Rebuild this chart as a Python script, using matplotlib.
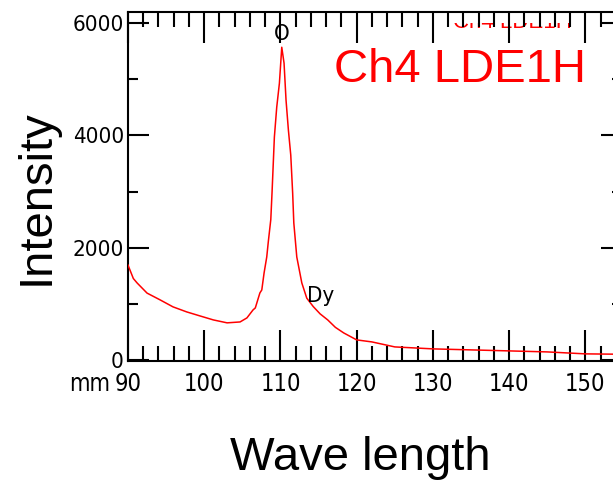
import matplotlib
matplotlib.use("Agg")
import matplotlib.pyplot as plt
from matplotlib.patches import Rectangle
from matplotlib.ticker import MultipleLocator

# spectrum
wavelength = [90, 90.7, 91.2, 92.5, 94.2, 95.9, 97.7, 99.4, 101.2, 103.0,
              104.7, 105.6, 106.4, 106.7, 107.3, 107.55, 107.85, 108.2, 108.4,
              108.73, 108.9, 109.2, 109.51, 109.86, 110.17, 110.47, 110.73,
              111.04, 111.35, 111.6, 111.75, 112.14, 112.8, 113.45, 114.3,
              115.2, 116.2, 117.2, 118.3, 120, 122, 125, 130, 135, 140, 145,
              150, 155]
intensity = [1690, 1450, 1370, 1190, 1070, 945, 855, 785, 712, 660,
             676, 748, 890, 926, 1193, 1246, 1549, 1834, 2100,
             2500, 3000, 3970, 4504, 4931, 5572, 5288, 4629,
             4095, 3650, 2970, 2440, 1834, 1371, 1100, 950,
             820, 712, 580, 480, 356, 320, 231, 196, 178, 160, 142,
             107, 100]

y_ticks = [0, 2000, 4000, 6000]
x_ticks = [90, 100, 110, 120, 130, 140, 150]

small = dict(family="DejaVu Sans", stretch="condensed")
big = "Liberation Sans"

fig = plt.figure(figsize=(6.13, 4.84), dpi=100)
ax = fig.add_axes([128 / 613, 1 - 361 / 484, (622 - 128) / 613, (361 - 12) / 484])

ax.plot(wavelength, intensity, color="red", linewidth=1.1, zorder=3)

ax.set_xlim(90, 154.8)
ax.set_ylim(-20, 6200)
ax.set_xticks(x_ticks)
ax.set_yticks(y_ticks)
ax.xaxis.set_minor_locator(MultipleLocator(2))
ax.yaxis.set_minor_locator(MultipleLocator(1000))
ax.tick_params(which="both", direction="in", top=True, right=True, color="black", width=1.5)
ax.tick_params(axis="x", which="major", length=22, labelsize=17, pad=8)
ax.tick_params(axis="x", which="minor", length=11)
ax.tick_params(axis="y", which="major", length=15, labelsize=16, pad=3)
ax.tick_params(axis="y", which="minor", length=7.5)
for lab in ax.get_xticklabels() + ax.get_yticklabels():
    lab.set_family(small["family"])
    lab.set_stretch(small["stretch"])
for s in ax.spines.values():
    s.set_linewidth(1.5)

ax.text(110.2, 5800, "O", fontsize=16, ha="center", va="center", **small)
ax.text(113.5, 1033, "Dy", fontsize=16, ha="left", va="baseline", **small)
fig.text(110 / 613, 1 - 384 / 484, "mm", fontsize=17, ha="right", va="center", **small)

# faint, mostly hidden copy of the channel name under the top ticks
ax.text(512 / 613, 1 - 28 / 484, "Ch4 LDE1H", color="red", fontsize=16,
        ha="center", va="baseline", family=big, transform=fig.transFigure,
        zorder=1, clip_on=False)
ax.add_patch(Rectangle((440 / 613, 1 - 23 / 484), 150 / 613, 12 / 484,
                       transform=fig.transFigure, facecolor="white",
                       edgecolor="none", zorder=1.5, clip_on=False))

fig.text(460 / 613, 1 - 70 / 484, "Ch4 LDE1H", color="red", family=big, fontsize=34,
         ha="center", va="center")
fig.text(37 / 613, 1 - 197 / 484, "Intensity", family=big, fontsize=34,
         rotation=90, ha="center", va="center")
fig.text(360 / 613, 1 - 470 / 484, "Wave length", family=big, fontsize=34,
         ha="center", va="baseline")

fig.savefig("out.png", dpi=100)
